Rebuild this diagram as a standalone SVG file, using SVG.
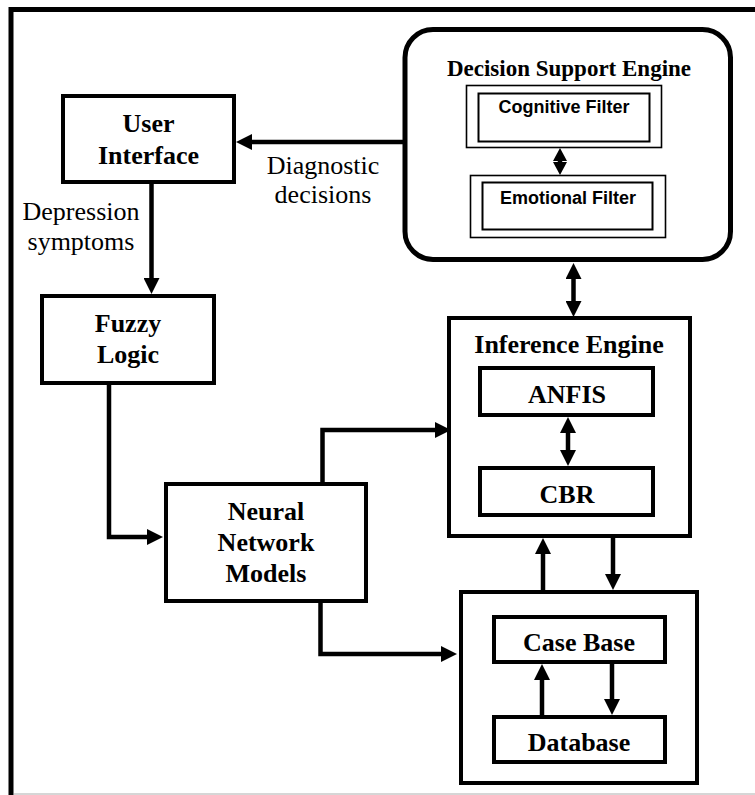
<svg xmlns="http://www.w3.org/2000/svg" width="755" height="795" viewBox="0 0 755 795">
<style>
.box{fill:#fff;stroke:#000;stroke-width:4}
.thin{fill:#fff;stroke:#000;stroke-width:1.6}
.conn{fill:none;stroke:#000;stroke-width:4.5}
.tb{font-family:"Liberation Serif","Times New Roman",serif;font-weight:bold;font-size:26px;text-anchor:middle;fill:#000}
.tr{font-family:"Liberation Serif","Times New Roman",serif;font-size:26px;text-anchor:middle;fill:#000}
.ts{font-family:"Liberation Sans",Arial,sans-serif;font-weight:bold;font-size:18px;text-anchor:middle;fill:#000}
</style>
<defs>
<marker id="ah" viewBox="0 0 16 16" markerWidth="16" markerHeight="16" refX="6" refY="8" orient="auto-start-reverse" markerUnits="userSpaceOnUse">
<path d="M0,0 L16,8 L0,16 z" fill="#000"/>
</marker>
<marker id="ahs" viewBox="0 0 13 14" markerWidth="13" markerHeight="14" refX="5" refY="7" orient="auto-start-reverse" markerUnits="userSpaceOnUse">
<path d="M0,0 L13,7 L0,14 z" fill="#000"/>
</marker>
</defs>
<rect width="755" height="795" fill="#fff"/>
<g id="frame">
<path d="M11,795 V9.5 H755" fill="none" stroke="#000" stroke-width="5"/>
<line x1="14" y1="794" x2="755" y2="794" stroke="#c8c8c8" stroke-width="1.5"/>
</g>
<g id="user-interface">
<rect class="box" x="63" y="96" width="171" height="86"/>
<text class="tb" x="148.5" y="132">User</text>
<text class="tb" x="148.5" y="164">Interface</text>
</g>
<g id="fuzzy-logic">
<rect class="box" x="42" y="296" width="172" height="87"/>
<text class="tb" x="128" y="332">Fuzzy</text>
<text class="tb" x="128" y="363">Logic</text>
</g>
<g id="neural-network-models">
<rect class="box" x="166" y="484" width="200" height="117"/>
<text class="tb" x="266" y="520">Neural</text>
<text class="tb" x="266" y="551">Network</text>
<text class="tb" x="266" y="582">Models</text>
</g>
<g id="decision-support-engine">
<rect x="405" y="29.5" width="325.5" height="230" rx="28" ry="28" fill="#fff" stroke="#000" stroke-width="5"/>
<text class="tb" x="569" y="76" style="font-size:23px">Decision Support Engine</text>
</g>
<g id="cognitive-filter">
<rect class="thin" x="466.5" y="85.5" width="195" height="62"/>
<rect class="thin" x="478.5" y="93.5" width="171" height="48" style="stroke-width:2"/>
<text class="ts" x="564" y="113">Cognitive Filter</text>
</g>
<g id="emotional-filter">
<rect class="thin" x="470.5" y="175.5" width="195" height="62"/>
<rect class="thin" x="482.5" y="182.5" width="170" height="47" style="stroke-width:2"/>
<text class="ts" x="568" y="204">Emotional Filter</text>
</g>
<g id="inference-engine">
<rect class="box" x="449" y="318" width="241" height="218"/>
<text class="tb" x="569" y="353">Inference Engine</text>
</g>
<g id="anfis">
<rect class="box" x="480" y="368" width="173" height="47"/>
<text class="tb" x="567" y="403">ANFIS</text>
</g>
<g id="cbr">
<rect class="box" x="480" y="468" width="173" height="47"/>
<text class="tb" x="567" y="503">CBR</text>
</g>
<g id="knowledge-store">
<rect class="box" x="461" y="592" width="236" height="191"/>
</g>
<g id="case-base">
<rect class="box" x="494" y="617" width="171" height="45"/>
<text class="tb" x="579" y="651">Case Base</text>
</g>
<g id="database">
<rect class="box" x="494" y="717" width="171" height="45"/>
<text class="tb" x="579" y="751">Database</text>
</g>
<g id="connectors">
<line class="conn" x1="405" y1="142" x2="246" y2="142" marker-end="url(#ah)"/>
<line class="conn" x1="151.5" y1="184" x2="151.5" y2="284" marker-end="url(#ah)"/>
<path class="conn" d="M109,385 V537 H153" marker-end="url(#ah)"/>
<path class="conn" d="M322.5,484 V430 H441" marker-end="url(#ah)"/>
<path class="conn" d="M320.5,601 V654 H447" marker-end="url(#ah)"/>
<line class="conn" x1="573.5" y1="273" x2="573.5" y2="307" marker-start="url(#ah)" marker-end="url(#ah)"/>
<line class="conn" x1="568" y1="427" x2="568" y2="456" marker-start="url(#ah)" marker-end="url(#ah)"/>
<line class="conn" x1="543" y1="592" x2="543" y2="548" marker-end="url(#ah)"/>
<line class="conn" x1="613" y1="538" x2="613" y2="580" marker-end="url(#ah)"/>
<line class="conn" x1="542" y1="717" x2="542" y2="674" marker-end="url(#ah)"/>
<line class="conn" x1="612" y1="662" x2="612" y2="705" marker-end="url(#ah)"/>
<line class="conn" x1="560" y1="156" x2="560" y2="167" stroke-width="4" marker-start="url(#ahs)" marker-end="url(#ahs)"/>
<text class="tr" x="323" y="174">Diagnostic</text>
<text class="tr" x="323" y="203">decisions</text>
<text class="tr" x="81" y="220">Depression</text>
<text class="tr" x="81" y="250">symptoms</text>
</g>
</svg>
